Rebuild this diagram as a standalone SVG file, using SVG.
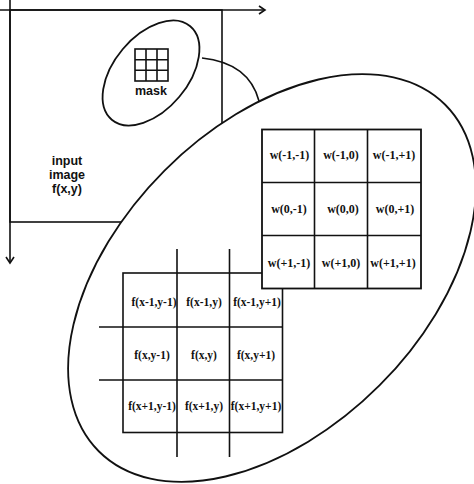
<svg xmlns="http://www.w3.org/2000/svg" width="474" height="484" viewBox="0 0 474 484">
<style>
.ln{stroke:#111;stroke-width:1.6;fill:none}
.el{stroke:#111;stroke-width:1.8;fill:#fff}
.cell{stroke:#111;stroke-width:1.8;fill:#fff}
.sans{font-family:"Liberation Sans",Arial,sans-serif;font-weight:bold;font-size:12.5px;fill:#111;text-anchor:middle}
.w{font-family:"Liberation Serif","Times New Roman",serif;font-weight:bold;font-size:12px;fill:#111;text-anchor:middle}
.f{font-family:"Liberation Serif","Times New Roman",serif;font-weight:bold;font-size:11.5px;fill:#111;text-anchor:middle}
</style>
<defs>
<marker id="chev" markerWidth="10" markerHeight="10" refX="7" refY="5" orient="auto" markerUnits="userSpaceOnUse">
<path d="M1,1 L7,5 L1,9" fill="none" stroke="#111" stroke-width="1.6"/>
</marker>
</defs>
<rect width="474" height="484" fill="#fff"/>

<g id="input-image">
<rect x="10" y="10" width="212" height="212" class="ln"/>
<text class="sans" x="67" y="165">input</text>
<text class="sans" x="67" y="179">image</text>
<text class="sans" x="67" y="193">f(x,y)</text>
</g>

<g id="connectors">
<line x1="10" y1="0" x2="10" y2="263" class="ln" marker-end="url(#chev)"/>
<line x1="0" y1="10" x2="265" y2="10" class="ln" marker-end="url(#chev)"/>
<path d="M202,58 Q249,63 259,101" class="ln"/>
</g>

<g id="neighborhood">
<ellipse cx="272" cy="278" rx="245" ry="152" transform="rotate(-45 272 278)" class="el"/>
</g>

<g id="mask">
<ellipse cx="151" cy="73" rx="61" ry="37" transform="rotate(-50 151 73)" class="el"/>
<g class="ln" stroke-width="1.6">
<rect x="135" y="49" width="33" height="32"/>
<line x1="146" y1="49" x2="146" y2="81"/>
<line x1="157" y1="49" x2="157" y2="81"/>
<line x1="135" y1="59.7" x2="168" y2="59.7"/>
<line x1="135" y1="70.3" x2="168" y2="70.3"/>
</g>
<text class="sans" x="151" y="95" font-size="12">mask</text>
</g>

<g id="image-grid">
<rect x="123" y="273" width="159.5" height="159.5" class="ln" stroke-width="1.8"/>
<line x1="177" y1="249" x2="177" y2="457" class="ln" stroke-width="1.8"/>
<line x1="229.5" y1="249" x2="229.5" y2="457" class="ln" stroke-width="1.8"/>
<line x1="99" y1="327" x2="282.5" y2="327" class="ln" stroke-width="1.8"/>
<line x1="99" y1="380" x2="282.5" y2="380" class="ln" stroke-width="1.8"/>
<text class="f" x="154" y="306">f(x-1,y-1)</text>
<text class="f" x="204" y="306">f(x-1,y)</text>
<text class="f" x="257" y="306">f(x-1,y+1)</text>
<text class="f" x="152" y="359">f(x,y-1)</text>
<text class="f" x="204" y="359">f(x,y)</text>
<text class="f" x="256" y="359">f(x,y+1)</text>
<text class="f" x="152" y="410">f(x+1,y-1)</text>
<text class="f" x="204" y="410">f(x+1,y)</text>
<text class="f" x="256" y="410">f(x+1,y+1)</text>
</g>

<g id="weight-grid">
<rect x="262" y="129.5" width="159" height="159" class="cell"/>
<line x1="314.5" y1="129.5" x2="314.5" y2="288.5" class="ln" stroke-width="1.8"/>
<line x1="367.5" y1="129.5" x2="367.5" y2="288.5" class="ln" stroke-width="1.8"/>
<line x1="262" y1="182.5" x2="421" y2="182.5" class="ln" stroke-width="1.8"/>
<line x1="262" y1="235.5" x2="421" y2="235.5" class="ln" stroke-width="1.8"/>
<text class="w" x="289.5" y="159">w(-1,-1)</text>
<text class="w" x="341" y="159">w(-1,0)</text>
<text class="w" x="394" y="159">w(-1,+1)</text>
<text class="w" x="289" y="213">w(0,-1)</text>
<text class="w" x="343" y="213">w(0,0)</text>
<text class="w" x="395" y="213">w(0,+1)</text>
<text class="w" x="289" y="267">w(+1,-1)</text>
<text class="w" x="341" y="267">w(+1,0)</text>
<text class="w" x="393" y="267">w(+1,+1)</text>
</g>
</svg>
